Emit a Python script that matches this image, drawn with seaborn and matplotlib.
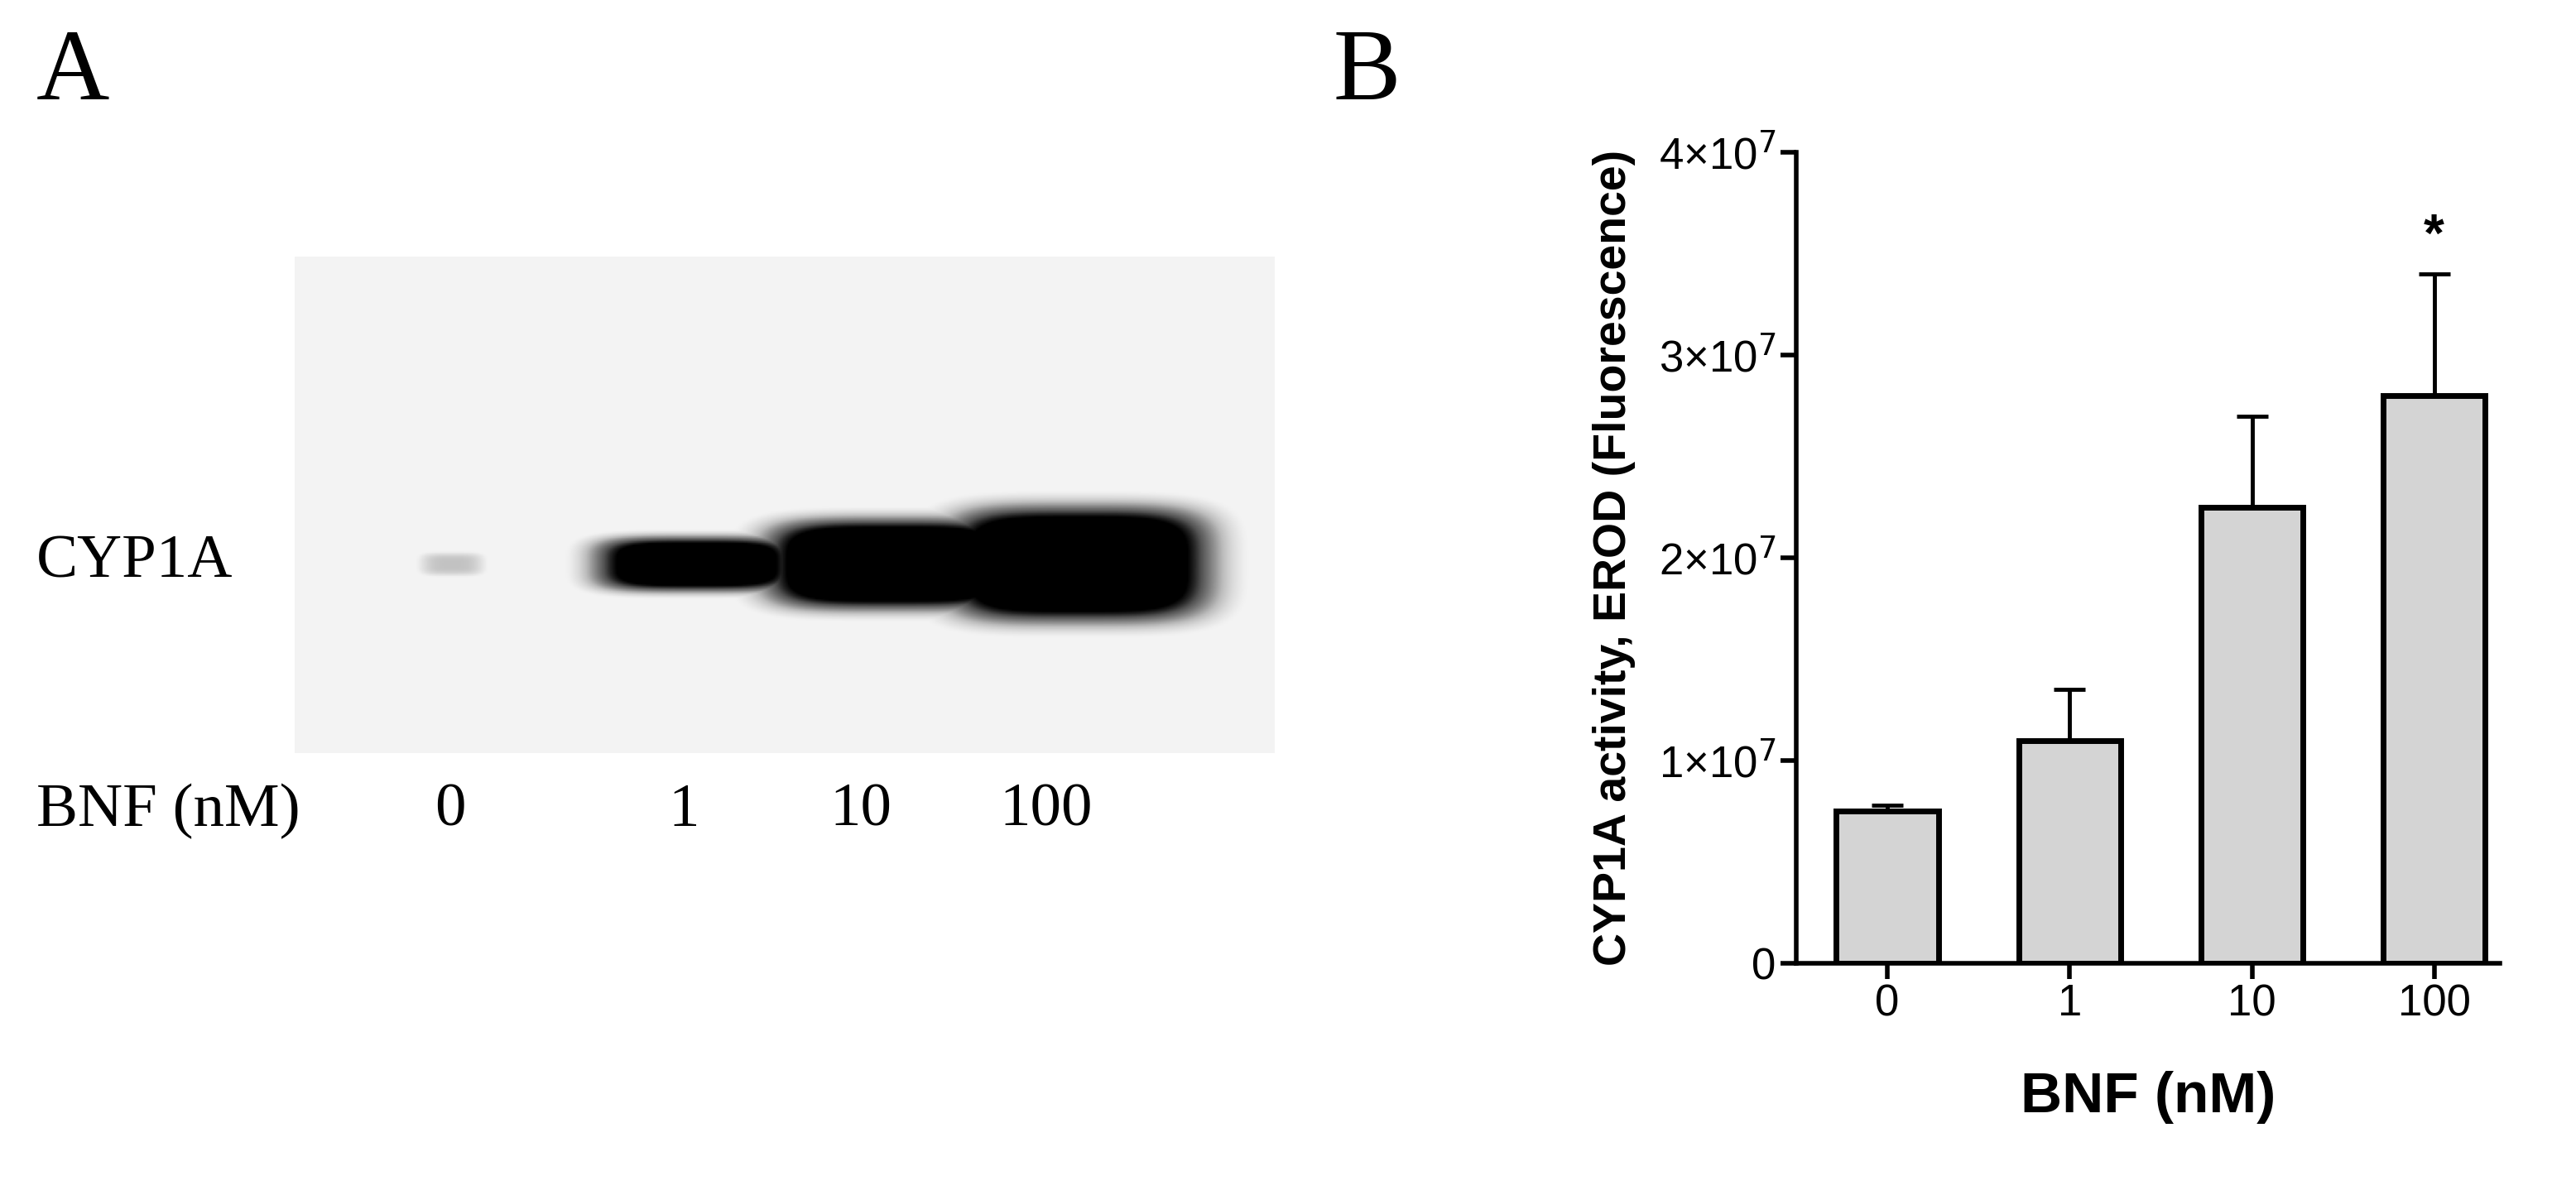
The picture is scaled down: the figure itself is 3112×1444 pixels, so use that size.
import numpy as np
import pandas as pd
import matplotlib
matplotlib.use("Agg")
import matplotlib.pyplot as plt
import seaborn as sns

# data
bnf_doses = ["0", "1", "10", "100"]
erod_mean = [7.5e6, 11.0e6, 22.5e6, 28.0e6]
erod_sem = [0.3e6, 2.5e6, 4.5e6, 6.0e6]
significance = ["", "", "", "*"]
ytick_vals = [0, 1e7, 2e7, 3e7, 4e7]
ytick_labels = ["0", "1×10$^7$", "2×10$^7$", "3×10$^7$", "4×10$^7$"]
band_intensity = [0.35, 0.9, 1.0, 1.0]   # relative darkness of blot bands
band_width = [0.07, 0.21, 0.26, 0.27]     # relative to blot width
band_height = [0.05, 0.11, 0.18, 0.23]

sns.set_style("ticks")
plt.rcParams["font.family"] = ["Liberation Sans", "DejaVu Sans"]
plt.rcParams["text.color"] = "black"
plt.rcParams["xtick.color"] = "black"
plt.rcParams["ytick.color"] = "black"
plt.rcParams["axes.labelcolor"] = "black"
fig = plt.figure(figsize=(31.12, 14.44), dpi=100)

# ---- panel A: blot
axA = fig.add_axes([178/1556, 1-455/722, (770-178)/1556, 300/722])
lane_x = [0.16, 0.41, 0.61, 0.8]
nx, ny = 600, 300
xx, yy = np.meshgrid(np.linspace(0, 1, nx), np.linspace(0, 1, ny))
img = np.full((ny, nx), 0.1)
for cx, inten, w, h in zip(lane_x, band_intensity, band_width, band_height):
    d = ((xx - cx) / (w / 2)) ** 4 + ((yy - 0.62) / (h / 2)) ** 4
    img = np.maximum(img, inten * np.exp(-d) * (1.6 if inten > 0.5 else 1))
img = np.clip(img, 0, 1)
axA.imshow(img, cmap="Greys", vmin=0, vmax=1, aspect="auto", extent=[0, 1, 1, 0])
axA.set_axis_off()

serif = "Liberation Serif"
fig.text(22/1556, 1-45/722, "A", fontsize=88, family=serif, va="center")
fig.text(805/1556, 1-45/722, "B", fontsize=88, family=serif, va="center")
fig.text(22/1556, 1-340/722, "CYP1A", fontsize=54, family=serif, va="center")
fig.text(22/1556, 1-490/722, "BNF (nM)", fontsize=54, family=serif, va="center")
for lx, lab in zip([272, 413, 520, 632], bnf_doses):
    fig.text(lx/1556, 1-490/722, lab, fontsize=54, family=serif, va="center", ha="center")

# ---- panel B: bar chart
axB = fig.add_axes([1085/1556, 1-582/722, (1510-1085)/1556, (582-92)/722])
df = pd.DataFrame({"BNF": bnf_doses, "EROD": erod_mean})
sns.barplot(data=df, x="BNF", y="EROD", color="#d4d4d4", edgecolor="black",
            linewidth=5, width=0.56, errorbar=None, saturation=1, ax=axB)
xs = np.arange(len(bnf_doses))
axB.errorbar(xs, erod_mean, yerr=[np.zeros(len(xs)), erod_sem], fmt="none",
             ecolor="black", elinewidth=3.5, capsize=14, capthick=3.5, zorder=0)
for x, m, e, s in zip(xs, erod_mean, erod_sem, significance):
    if s:
        axB.text(x, m + e + 0.6e6, s, ha="center", va="bottom", fontsize=46, fontweight="bold")

axB.set_xlim(-0.5, 3.36)
axB.set_ylim(0, 4e7)
axB.set_yticks(ytick_vals)
axB.set_yticklabels(ytick_labels)
axB.tick_params(labelsize=38, width=4, length=14, color="black")
for sp in ["left", "bottom"]:
    axB.spines[sp].set_linewidth(4)
    axB.spines[sp].set_color("black")
sns.despine(ax=axB)
axB.set_xlabel("BNF (nM)", fontsize=50, fontweight="bold", labelpad=40)
axB.set_ylabel("CYP1A activity, EROD (Fluorescence)", fontsize=40, fontweight="bold", labelpad=20)

fig.savefig("out.png", dpi=100)
